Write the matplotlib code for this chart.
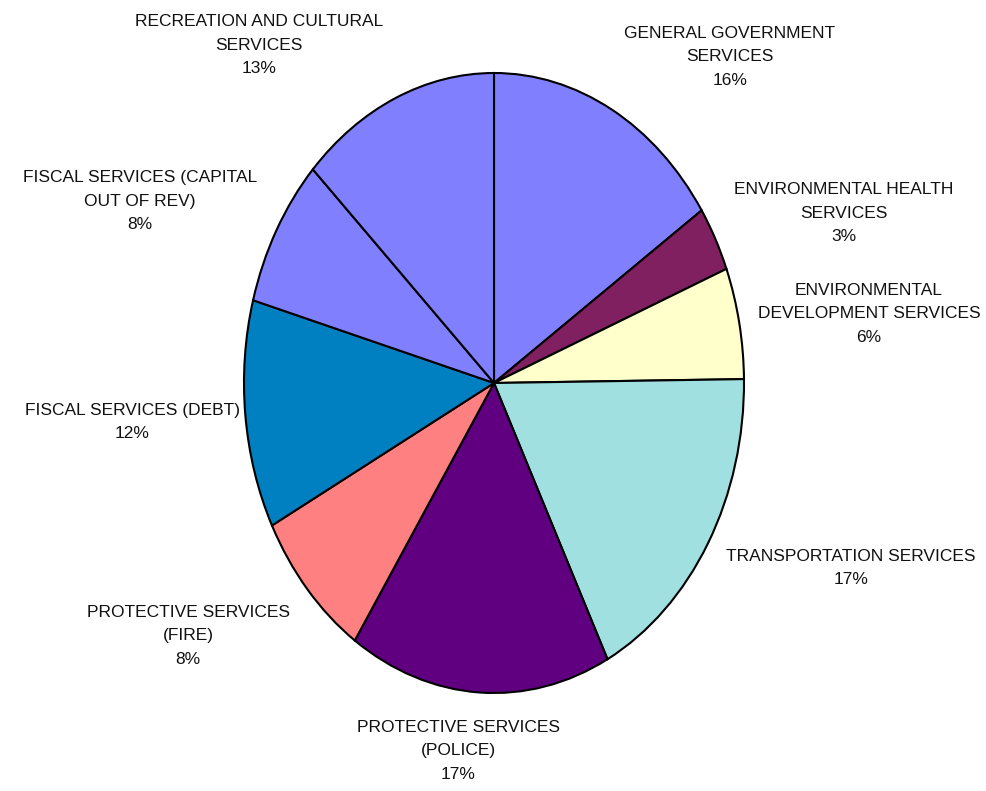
"""Budget expenditure pie chart (elliptical, Excel style)."""
import matplotlib
matplotlib.use("Agg")
import matplotlib.pyplot as plt
from matplotlib import font_manager

categories = [
    "GENERAL GOVERNMENT\nSERVICES",
    "ENVIRONMENTAL HEALTH\nSERVICES",
    "ENVIRONMENTAL\nDEVELOPMENT SERVICES",
    "TRANSPORTATION SERVICES",
    "PROTECTIVE SERVICES\n(POLICE)",
    "PROTECTIVE SERVICES\n(FIRE)",
    "FISCAL SERVICES (DEBT)",
    "FISCAL SERVICES (CAPITAL\nOUT OF REV)",
    "RECREATION AND CULTURAL\nSERVICES",
]
shares = [15.6, 3.4, 5.8, 17.7, 16.9, 8.0, 11.9, 7.8, 12.9]
pct_labels = ["16%", "3%", "6%", "17%", "17%", "8%", "12%", "8%", "13%"]

colors = ["#8080FF", "#802060", "#FFFFCC", "#A0E0E0", "#600080",
          "#FF8080", "#0080C0", "#8080FF", "#8080FF"]

# label anchor points (axes data units, pie radius = 1)
label_pos = [(0.944, 1.052), (1.40, 0.548), (1.50, 0.223), (1.428, -0.597),
             (-0.144, -1.187), (-1.224, -0.816), (-1.448, -0.126),
             (-1.416, 0.587), (-0.94, 1.09)]

names = {f.name for f in font_manager.fontManager.ttflist}
family = "Liberation Sans Narrow" if "Liberation Sans Narrow" in names else "Liberation Sans"

fig = plt.figure(figsize=(9.86, 7.91), dpi=100)
ax = fig.add_axes([0, 0, 1, 1])
ax.pie(shares, colors=colors, startangle=90, counterclock=False,
       wedgeprops=dict(edgecolor="black", linewidth=1.5), frame=False)
ax.set_aspect("auto")
ax.set_xlim(-494 / 250, 492 / 250)
ax.set_ylim(-408 / 310, 383 / 310)
ax.axis("off")

for (x, y), cat, pct in zip(label_pos, categories, pct_labels):
    ax.text(x, y, f"{cat}\n{pct}", ha="center", va="center",
            fontsize=12.5, family=family, linespacing=1.68, color="#111111")

fig.savefig("out.png", dpi=100)
